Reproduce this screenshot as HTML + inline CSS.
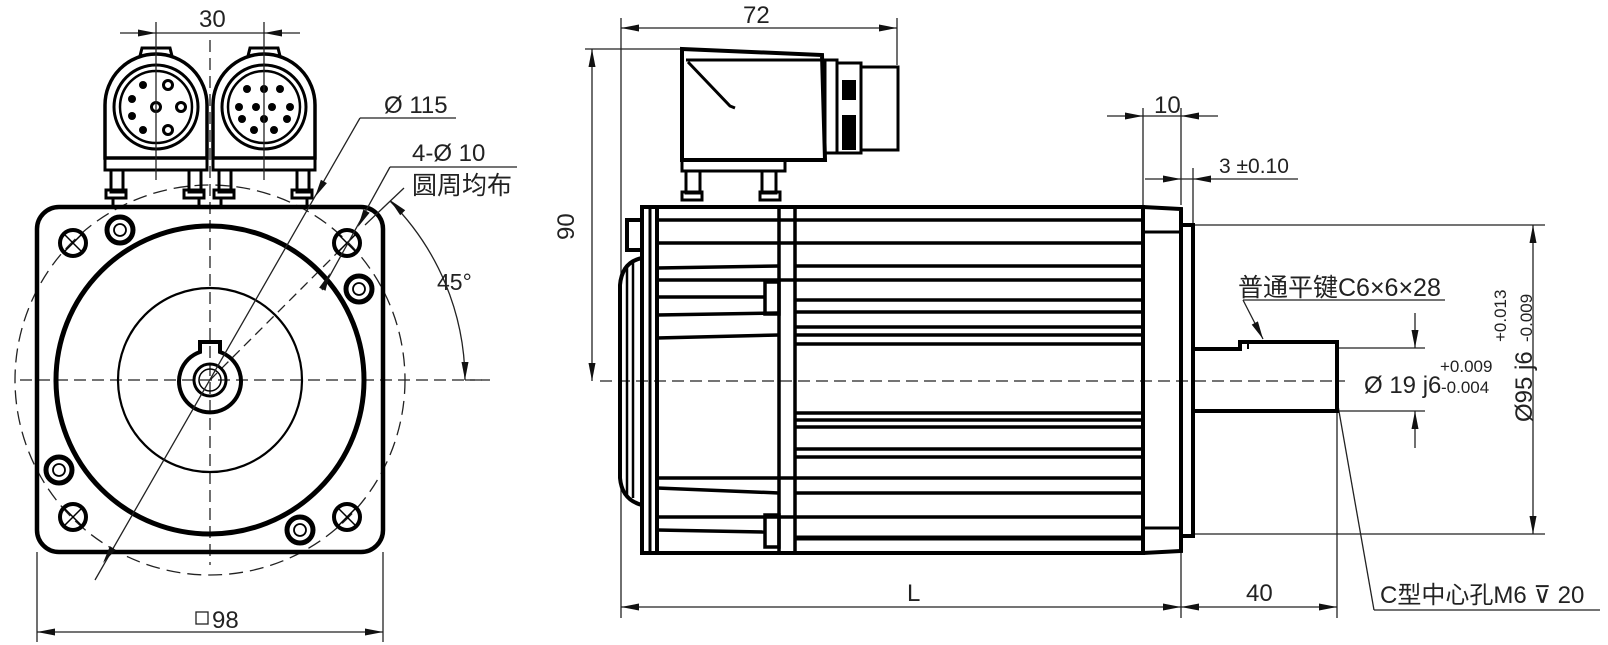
<!DOCTYPE html>
<html><head><meta charset="utf-8"><style>
html,body{margin:0;padding:0;background:#fff;}
svg{display:block;}
text{font-family:"Liberation Sans","Noto Sans CJK SC",sans-serif;fill:#222;}
</style></head><body>
<svg width="1608" height="645" viewBox="0 0 1608 645" xmlns="http://www.w3.org/2000/svg">
<rect width="1608" height="645" fill="#fff"/>

<!-- ============ LEFT VIEW ============ -->
<g fill="none" stroke="#222" stroke-width="1.3">
 <line x1="20" y1="380" x2="485" y2="380" stroke-dasharray="12,6"/>
 <line x1="210" y1="40" x2="210" y2="565" stroke-dasharray="12,6"/>
 <circle cx="210" cy="380" r="195" stroke-dasharray="14,7"/>
 <line x1="210" y1="380" x2="347" y2="243" stroke-dasharray="10,6"/>
</g>
<rect x="37" y="207" width="346" height="345" rx="22" fill="none" stroke="#000" stroke-width="4.5"/>
<circle cx="210" cy="380" r="154" fill="none" stroke="#000" stroke-width="5"/>
<circle cx="210" cy="380" r="92" fill="none" stroke="#000" stroke-width="2.2"/>
<path d="M200,352 L200,342 L220,342 L220,352 A31,31 0 1 1 200,352 Z" fill="none" stroke="#000" stroke-width="4"/>
<circle cx="210" cy="380" r="16" fill="none" stroke="#000" stroke-width="3"/>
<circle cx="210" cy="380" r="11" fill="none" stroke="#000" stroke-width="1.5"/>
<g fill="none" stroke="#000">
 <g stroke-width="4"><circle cx="73" cy="243" r="13"/><circle cx="347" cy="243" r="13"/><circle cx="73" cy="517" r="13"/><circle cx="347" cy="517" r="13"/></g>
 <g stroke-width="1.5"><path d="M64,234 L82,252 M82,234 L64,252"/><path d="M338,234 L356,252 M356,234 L338,252"/><path d="M64,508 L82,526 M82,508 L64,526"/><path d="M338,508 L356,526 M356,508 L338,526"/></g>
 <g stroke-width="5"><circle cx="120" cy="230" r="13"/><circle cx="359" cy="289" r="13"/><circle cx="59" cy="470" r="13"/><circle cx="300" cy="530" r="13"/></g>
 <g stroke-width="1.8"><circle cx="120" cy="230" r="6"/><circle cx="359" cy="289" r="6"/><circle cx="59" cy="470" r="6"/><circle cx="300" cy="530" r="6"/></g>
</g>
<g fill="none" stroke="#000" stroke-width="3.5">
 <g id="c1">
  <path d="M105,158 L105,105 A51,51 0 0 1 207,105 L207,158 Z"/>
  <rect x="105" y="158" width="102" height="12" stroke-width="3"/>
  <path d="M140,56 L142,48 L170,48 L172,56" stroke-width="3"/>
  <rect x="111" y="170" width="12" height="22" stroke-width="3"/>
  <rect x="106" y="190" width="20" height="8" stroke-width="3"/>
  <rect x="189" y="170" width="12" height="22" stroke-width="3"/>
  <rect x="184" y="190" width="20" height="8" stroke-width="3"/>
  <line x1="113" y1="198" x2="113" y2="207" stroke-width="3"/>
  <line x1="199" y1="198" x2="199" y2="207" stroke-width="3"/>
 </g>
 <circle cx="156" cy="107" r="42" stroke-width="3"/>
 <circle cx="156" cy="107" r="36" stroke-width="2.5"/>
 <use href="#c1" x="108"/>
 <circle cx="264" cy="107" r="42" stroke-width="3"/>
 <circle cx="264" cy="107" r="36" stroke-width="2.5"/>
</g>
<g fill="#000">
 <circle cx="143" cy="85" r="4"/><circle cx="132" cy="99" r="4"/><circle cx="132" cy="116" r="4"/><circle cx="143" cy="130" r="4"/>
</g>
<g fill="none" stroke="#000" stroke-width="3">
 <circle cx="168" cy="85" r="4.5"/><circle cx="168" cy="130" r="4.5"/><circle cx="181" cy="107" r="4.5"/><circle cx="156" cy="107" r="4.5"/>
</g>
<g fill="#000">
 <circle cx="247" cy="89" r="4"/><circle cx="264" cy="89" r="4"/><circle cx="280" cy="89" r="4"/>
 <circle cx="239" cy="107" r="4"/><circle cx="256" cy="107" r="4"/><circle cx="272" cy="107" r="4"/><circle cx="290" cy="107" r="4"/>
 <circle cx="242" cy="119" r="4"/><circle cx="264" cy="119" r="4"/><circle cx="287" cy="119" r="4"/>
 <circle cx="254" cy="130" r="4"/><circle cx="274" cy="130" r="4"/>
</g>
<g stroke="#222" stroke-width="1.3" fill="none">
 <line x1="156" y1="22" x2="156" y2="180"/>
 <line x1="264" y1="22" x2="264" y2="180"/>
 <line x1="120" y1="33" x2="300" y2="33"/>
 <line x1="456" y1="118" x2="360" y2="118"/>
 <line x1="360" y1="118" x2="95" y2="580"/>
 <line x1="517" y1="167" x2="390" y2="167"/>
 <line x1="390" y1="167" x2="322" y2="290"/>
 <line x1="365" y1="225" x2="404" y2="188"/>
 <path d="M390,201 A255,255 0 0 1 465,380"/>
 <line x1="465" y1="380" x2="490" y2="380" stroke-dasharray="10,6"/>
 <line x1="37" y1="552" x2="37" y2="642"/>
 <line x1="383" y1="552" x2="383" y2="642"/>
 <line x1="37" y1="632" x2="383" y2="632"/>
</g>
<g fill="#111">
 <polygon points="138,29.5 156,33 138,36.5"/>
 <polygon points="282,29.5 264,33 282,36.5"/>
 <polygon points="326.9,183.1 315,197 320.9,179.7"/>
 <polygon points="115.7,549.9 103,563 109.9,546.1"/>
 <polygon points="369.6,212.7 358,227 363.4,209.5"/>
 <polygon points="325.5,290.8 330,273 319.1,287.8"/>
 <polygon points="405.2,210.2 390,200 400.2,215.2"/>
 <polygon points="461.5,362 465,380 468.5,362"/>
 <polygon points="55,628.5 37,632 55,635.5"/>
 <polygon points="365,628.5 383,632 365,635.5"/>
</g>
<text x="199" y="27" font-size="24">30</text>
<text x="384" y="113" font-size="24">Ø 115</text>
<text x="412" y="161" font-size="24">4-Ø 10</text>
<text x="412" y="194" font-size="25">圆周均布</text>
<text x="437" y="290" font-size="23">45°</text>
<rect x="196" y="612" width="12" height="12" fill="none" stroke="#222" stroke-width="1.3"/>
<text x="212" y="628" font-size="24">98</text>

<!-- ============ RIGHT VIEW ============ -->
<g stroke="#222" stroke-width="1.3" fill="none">
 <line x1="600" y1="381" x2="1345" y2="381" stroke-dasharray="12,6"/>
 <line x1="621" y1="18" x2="621" y2="618"/>
 <line x1="897" y1="18" x2="897" y2="65"/>
 <line x1="621" y1="28" x2="897" y2="28"/>
 <line x1="585" y1="49" x2="682" y2="49"/>
 <line x1="592" y1="49" x2="592" y2="381"/>
 <line x1="1181" y1="540" x2="1181" y2="618"/>
 <line x1="1337" y1="411" x2="1337" y2="618"/>
 <line x1="621" y1="607" x2="1337" y2="607"/>
 <line x1="1143" y1="108" x2="1143" y2="205"/>
 <line x1="1181" y1="108" x2="1181" y2="205"/>
 <line x1="1107" y1="116" x2="1218" y2="116"/>
 <line x1="1193" y1="168" x2="1193" y2="225"/>
 <line x1="1145" y1="179" x2="1298" y2="179"/>
 <line x1="1193" y1="225" x2="1545" y2="225"/>
 <line x1="1193" y1="534" x2="1545" y2="534"/>
 <line x1="1533" y1="225" x2="1533" y2="534"/>
 <line x1="1337" y1="348" x2="1425" y2="348"/>
 <line x1="1337" y1="411" x2="1425" y2="411"/>
 <line x1="1415" y1="313" x2="1415" y2="348"/>
 <line x1="1415" y1="448" x2="1415" y2="411"/>
 <line x1="1445" y1="300" x2="1243" y2="300"/>
 <line x1="1243" y1="300" x2="1263" y2="339"/>
 <line x1="1337" y1="400" x2="1374" y2="610"/>
 <line x1="1374" y1="610" x2="1600" y2="610"/>
</g>
<g fill="#111">
 <polygon points="639,24.5 621,28 639,31.5"/>
 <polygon points="879,24.5 897,28 879,31.5"/>
 <polygon points="588.5,67 592,49 595.5,67"/>
 <polygon points="588.5,363 592,381 595.5,363"/>
 <polygon points="639,603.5 621,607 639,610.5"/>
 <polygon points="1163,603.5 1181,607 1163,610.5"/>
 <polygon points="1199,603.5 1181,607 1199,610.5"/>
 <polygon points="1319,603.5 1337,607 1319,610.5"/>
 <polygon points="1125,112.5 1143,116 1125,119.5"/>
 <polygon points="1199,112.5 1181,116 1199,119.5"/>
 <polygon points="1163,175.5 1181,179 1163,182.5"/>
 <polygon points="1211,175.5 1193,179 1211,182.5"/>
 <polygon points="1529.5,243 1533,225 1536.5,243"/>
 <polygon points="1529.5,516 1533,534 1536.5,516"/>
 <polygon points="1411.5,330 1415,348 1418.5,330"/>
 <polygon points="1411.5,429 1415,411 1418.5,429"/>
 <polygon points="1257.9,321.4 1263,339 1251.7,324.6"/>
</g>
<g fill="none" stroke="#000" stroke-width="4">
 <path d="M682,49 L822,55 L825,160 L682,160 Z"/>
 <line x1="686" y1="60" x2="822" y2="60" stroke-width="3"/>
 <path d="M688,62 L730,106 L735,108" stroke-width="3"/>
 <rect x="825" y="60" width="12" height="93" stroke-width="3"/>
 <rect x="837" y="63" width="24" height="90" stroke-width="3"/>
 <rect x="861" y="67" width="37" height="83" stroke-width="3"/>
 <rect x="682" y="160" width="103" height="11" stroke-width="3"/>
 <rect x="686" y="171" width="14" height="22" stroke-width="3"/>
 <rect x="682" y="192" width="20" height="8" stroke-width="3"/>
 <rect x="762" y="171" width="14" height="22" stroke-width="3"/>
 <rect x="760" y="192" width="20" height="8" stroke-width="3"/>
</g>
<g fill="#000"><rect x="842" y="80" width="14" height="20"/><rect x="842" y="115" width="14" height="35"/></g>
<g fill="none" stroke="#000" stroke-width="4">
 <rect x="642" y="207" width="501" height="346"/>
 <path d="M642,258 Q622,262 620,285 L620,478 Q622,500 642,505"/>
 <line x1="627" y1="265" x2="627" y2="495" stroke-width="2.5"/>
 <line x1="633" y1="262" x2="633" y2="498" stroke-width="2.5"/>
 <rect x="627" y="220" width="15" height="30"/>
 <line x1="650" y1="207" x2="650" y2="553" stroke-width="3"/>
 <line x1="657" y1="207" x2="657" y2="553" stroke-width="4"/>
 <line x1="779" y1="207" x2="779" y2="553" stroke-width="3.5"/>
 <line x1="795" y1="207" x2="795" y2="553" stroke-width="3.5"/>
 <path d="M1143,207 L1181,209 L1181,551 L1143,553" />
 <line x1="1143" y1="232" x2="1181" y2="232" stroke-width="3"/>
 <line x1="1143" y1="528" x2="1181" y2="528" stroke-width="3"/>
 <path d="M1181,225 L1193,225 L1193,536 L1181,536" stroke-width="4"/>
 <path d="M1193,349 L1240,349 L1240,342 L1337,342 L1337,411 L1193,411" stroke-width="4"/>
 <line x1="1248" y1="342" x2="1248" y2="349" stroke-width="2"/>
</g>
<g stroke="#000" stroke-width="3.5" fill="none">
 <line x1="657" y1="220" x2="1143" y2="220"/>
 <line x1="657" y1="243" x2="1143" y2="243"/>
 <line x1="657" y1="268" x2="779" y2="266"/><line x1="795" y1="266" x2="1143" y2="266"/>
 <line x1="657" y1="280" x2="1143" y2="280"/>
 <line x1="657" y1="297" x2="765" y2="297"/><rect x="765" y="282" width="14" height="32"/>
 <line x1="657" y1="315" x2="779" y2="313"/>
 <line x1="795" y1="300" x2="1143" y2="300"/>
 <line x1="795" y1="312" x2="1143" y2="312"/>
 <line x1="657" y1="338" x2="779" y2="335"/>
 <line x1="795" y1="327" x2="1143" y2="327"/>
 <line x1="795" y1="335" x2="1143" y2="335"/>
 <line x1="795" y1="344" x2="1143" y2="344"/>
 <line x1="795" y1="413" x2="1143" y2="413"/>
 <line x1="795" y1="420" x2="1143" y2="420"/>
 <line x1="795" y1="427" x2="1143" y2="427"/>
 <line x1="795" y1="449" x2="1143" y2="449"/>
 <line x1="795" y1="457" x2="1143" y2="457"/>
 <line x1="657" y1="478" x2="1143" y2="478"/>
 <line x1="657" y1="488" x2="779" y2="493"/><line x1="795" y1="493" x2="1143" y2="493"/>
 <line x1="657" y1="517" x2="1143" y2="517"/>
 <line x1="657" y1="530" x2="765" y2="532"/><rect x="765" y="515" width="14" height="32"/>
 <line x1="795" y1="538" x2="1143" y2="538" stroke-width="5"/>
</g>
<text x="743" y="23" font-size="24">72</text>
<text transform="translate(574,240) rotate(-90)" font-size="24">90</text>
<text x="907" y="601" font-size="24">L</text>
<text x="1246" y="601" font-size="24">40</text>
<text x="1154" y="113" font-size="24">10</text>
<text x="1219" y="173" font-size="21">3 ±0.10</text>
<text x="1238" y="296" font-size="25">普通平键C6×6×28</text>
<text x="1364" y="393" font-size="24">Ø 19 j6</text>
<text x="1440" y="372" font-size="17">+0.009</text>
<text x="1441" y="393" font-size="17">-0.004</text>
<text transform="translate(1532,422) rotate(-90)" font-size="24">Ø95 j6</text>
<text transform="translate(1532,342) rotate(-90)" font-size="17">-0.009</text>
<text transform="translate(1506,342) rotate(-90)" font-size="17">+0.013</text>
<text x="1380" y="603" font-size="24">C型中心孔M6 <tspan font-family="DejaVu Sans">⊽</tspan> 20</text>
</svg>
</body></html>
